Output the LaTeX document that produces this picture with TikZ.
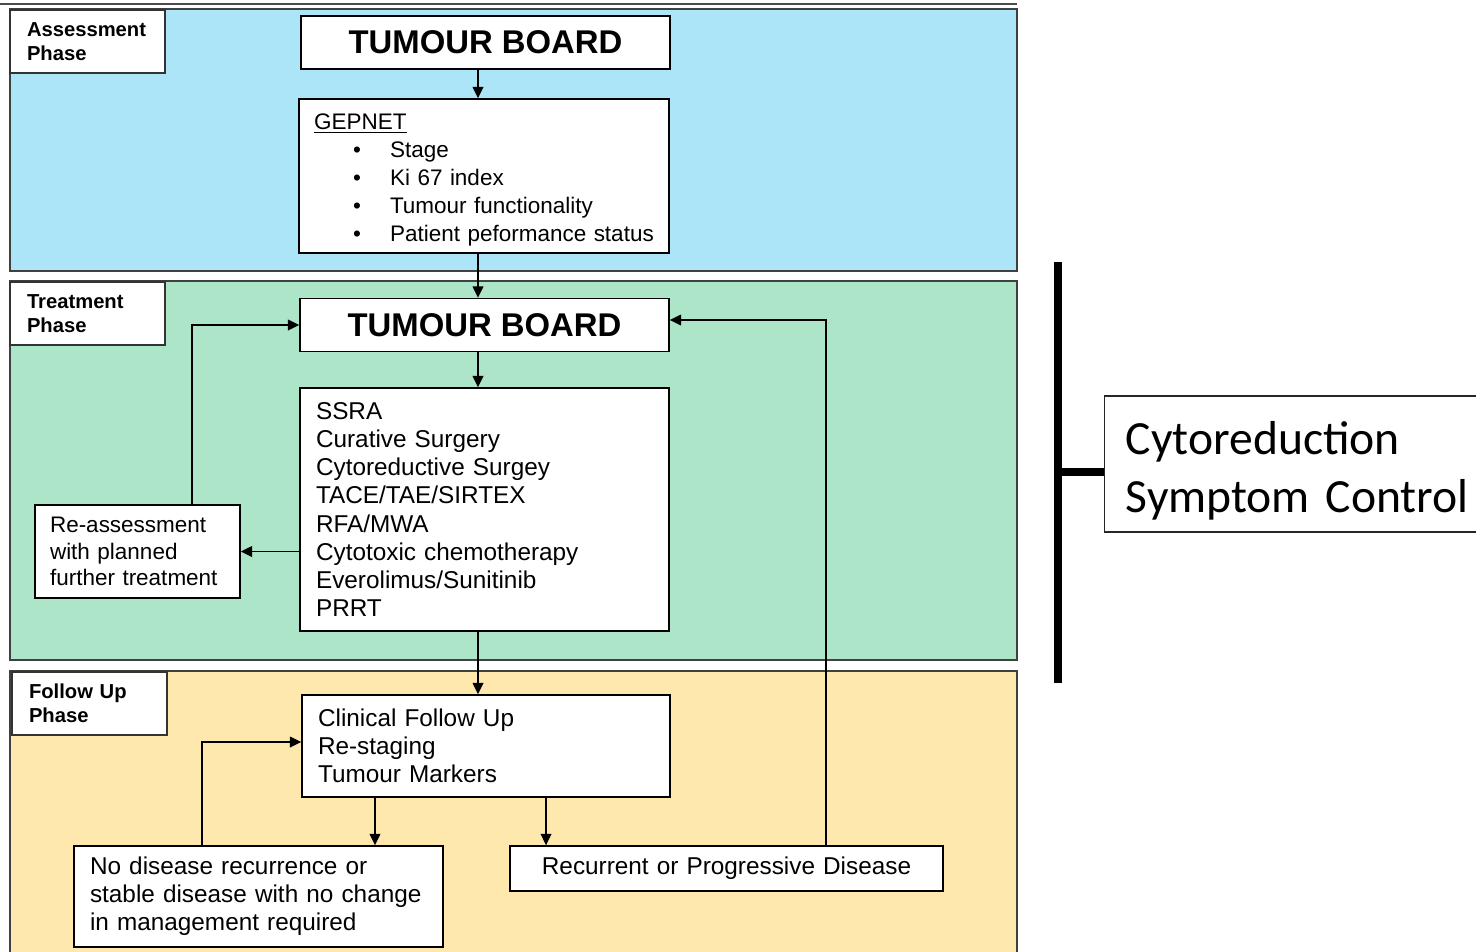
\documentclass[tikz,border=0pt]{standalone}
\usepackage{fontspec}
\setmainfont{Liberation Sans}
\newfontfamily\cytofont{Carlito}
\usetikzlibrary{arrows.meta}

\definecolor{assessblue}{RGB}{173,229,248}
\definecolor{treatgreen}{RGB}{172,229,200}
\definecolor{followyellow}{RGB}{255,232,174}

\begin{document}
\begin{tikzpicture}[x=0.02cm,y=-0.02cm,>={Triangle[length=6.5pt,width=6pt]},
  band/.style={draw=black!75,line width=0.8pt},
  phase/.style={draw=black!80,fill=white,line width=0.8pt,align=left,inner xsep=0.34cm,inner ysep=0pt,text width=2.42cm,minimum height=1.26cm,font=\fontsize{11.5}{13.6}\selectfont\bfseries},
  board/.style={draw,fill=white,line width=0.8pt,minimum width=7.38cm,minimum height=1.06cm,font=\fontsize{18.7}{22}\selectfont\bfseries},
  box/.style={draw,fill=white,line width=0.8pt,align=left,inner xsep=0.32cm,inner ysep=0pt,font=\fontsize{13.85}{16}\selectfont},
  link/.style={->,line width=1.1pt},
  bar/.style={line width=5pt}]
\useasboundingbox (0,0) rectangle (1476,951);

% phase bands
\draw[black!70,line width=0.6pt] (0,4) -- (1017,4);
\draw[band,fill=assessblue] (10,9) rectangle (1017,271);
\draw[band,fill=treatgreen] (10,281) rectangle (1017,660);
\draw[band,fill=followyellow] (10,671) rectangle (1017,960);

\node[phase] (assess) at (87.5,41.5) {Assessment\\Phase};
\node[phase] (treatph) at (87.5,313.5) {Treatment\\Phase};
\node[phase] (follow) at (89.5,703.5) {Follow Up\\Phase};

% boxes
\node[board] (tb1) at (485.5,42.5) {TUMOUR BOARD};
\node[box,text width=6.8cm,minimum height=3.08cm,inner xsep=0.3cm,font=\fontsize{12.8}{15.9}\selectfont] (gep) at (484,176) {\rule{0pt}{13.7pt}\underline{GEPNET}\\
  \makebox[1.52cm][l]{\hspace{0.78cm}\textbullet}Stage\\
  \makebox[1.52cm][l]{\hspace{0.78cm}\textbullet}Ki 67 index\\
  \makebox[1.52cm][l]{\hspace{0.78cm}\textbullet}Tumour functionality\\
  \makebox[1.52cm][l]{\hspace{0.78cm}\textbullet}Patient peformance status};

\node[board] (tb2) at (484.5,325) {TUMOUR BOARD};
\node[box,text width=6.74cm,minimum height=4.86cm] (treat) at (484.5,509.5) {SSRA\\Curative Surgery\\Cytoreductive Surgey\\TACE/TAE/SIRTEX\\RFA/MWA\\Cytotoxic chemotherapy\\Everolimus/Sunitinib\\PRRT};
\node[box,text width=3.5cm,minimum height=1.86cm,inner xsep=0.3cm,font=\fontsize{12.8}{15}\selectfont] (reas) at (137.5,551.5) {Re-assessment\\with planned\\further treatment};

\node[box,text width=6.72cm,minimum height=2.04cm] (cfu) at (486,746) {Clinical Follow Up\\Re-staging\\Tumour Markers};
\node[box,text width=6.74cm,minimum height=2.02cm] (nod) at (258.5,896.5) {No disease recurrence or\\stable disease with no change\\in management required};
\node[box,align=center,text width=8.02cm,minimum height=0.9cm] (rec) at (726.5,868.5) {Recurrent or Progressive Disease};

% main spine
\coordinate (spine) at (478,0);
\draw[link] (tb1.south -| spine) -- (gep.north -| spine);
\draw[link] (gep.south -| spine) -- (tb2.north -| spine);
\draw[link] (tb2.south -| spine) -- (treat.north -| spine);
\draw[link] (treat.south -| spine) -- (cfu.north -| spine);

% loops
\draw[link] (treat.west |- reas.east) -- (reas.east);
\draw[link] ([xshift=1.09cm]reas.north) |- (tb2.west);
\draw[link] ([xshift=2.33cm]nod.north |- cfu.south) -- ([xshift=2.33cm]nod.north);
\draw[link] ([xshift=-3.61cm]rec.north |- cfu.south) -- ([xshift=-3.61cm]rec.north);
\draw[link] ([xshift=-1.13cm]nod.north) |- ([yshift=0.08cm]cfu.west);
\draw[link] ([xshift=1.99cm]rec.north) |- ([yshift=0.1cm]tb2.east);

% right side
\node[draw=black!85,line width=0.8pt,anchor=west,align=left,inner xsep=0.42cm,inner ysep=0pt,text width=8cm,minimum height=2.72cm,font=\cytofont\fontsize{27.1}{33}\selectfont] (cyto) at (1104,464) {\rule{0pt}{26.5pt}Cytoreduction\\Symptom Control};
\coordinate (bartop) at (1058,262);
\coordinate (barbot) at (1058,683);
\coordinate (barmid) at (1058,472);
\draw[bar] (bartop) -- (barbot);
\draw[bar] (barmid) -- (barmid -| cyto.west);
\end{tikzpicture}
\end{document}
